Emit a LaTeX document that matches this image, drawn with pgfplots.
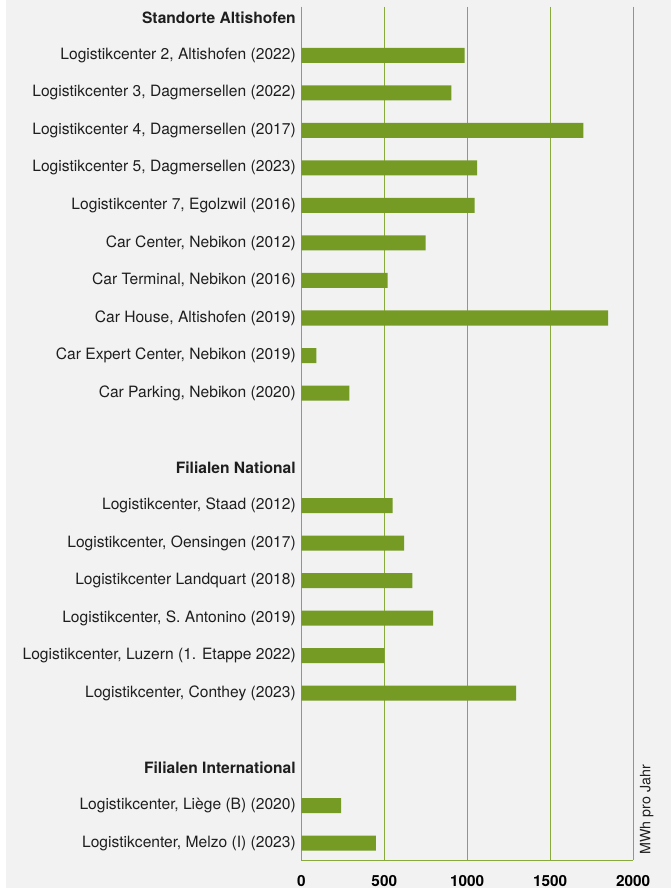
\documentclass[border=0pt]{standalone}
\usepackage{fontspec}
\setmainfont{TeX Gyre Heros}
\usepackage{pgfplots}
\pgfplotsset{compat=1.18}
\definecolor{bg}{RGB}{241,242,241}
\definecolor{barg}{RGB}{117,155,37}
\definecolor{gridg}{RGB}{136,170,60}
\definecolor{txt}{RGB}{30,30,30}

\begin{document}
\begin{tikzpicture}
  \useasboundingbox (0,0) rectangle (503.25pt,666pt);
  \fill[white] (0,0) rectangle (503.25pt,666pt);
  \fill[bg] (4.5pt,0) rectangle (503.25pt,666pt);
  \begin{axis}[
    at={(226pt,21pt)}, anchor=south west,
    scale only axis, width=248.8pt, height=639.75pt,
    xbar, bar width=0.4,
    xmin=0, xmax=2000,
    ymin=-0.293, ymax=22.453, y dir=reverse,
    axis lines*=left,
    axis line style={gridg, line width=0.75pt},
    xmajorgrids, grid style={gridg, line width=0.75pt},
    major tick length=0pt,
    xtick={0,500,1000,1500,2000},
    xticklabels={0,500,1000,1500,2000},
    scaled x ticks=false,
    xticklabel style={font=\fontsize{11.5}{13}\selectfont\bfseries, text=black,
      anchor=north, inner sep=0pt, yshift=-11.25pt},
    ytick={0,1,2,3,4,5,6,7,8,9,10,12,13,14,15,16,17,18,20,21,22},
    yticklabels={
      {\bfseries Standorte Altishofen},
      {Logistikcenter 2, Altishofen (2022)},
      {Logistikcenter 3, Dagmersellen (2022)\ },
      {Logistikcenter 4, Dagmersellen (2017)},
      {Logistikcenter 5, Dagmersellen (2023)},
      {Logistikcenter 7, Egolzwil (2016)},
      {Car Center, Nebikon (2012)},
      {Car Terminal, Nebikon (2016)},
      {Car House, Altishofen (2019)},
      {Car Expert Center, Nebikon (2019)},
      {Car Parking, Nebikon (2020)},
      {\bfseries Filialen National},
      {Logistikcenter, Staad (2012)},
      {Logistikcenter, Oensingen (2017)},
      {Logistikcenter Landquart (2018)},
      {Logistikcenter, S. Antonino (2019)},
      {Logistikcenter, Luzern (1. Etappe 2022)},
      {Logistikcenter, Conthey (2023)},
      {\bfseries Filialen International},
      {Logistikcenter, Liège (B) (2020)},
      {Logistikcenter, Melzo (I) (2023)}},
    yticklabel style={font=\fontsize{11.7}{14}\selectfont, text=txt,
      anchor=east, inner sep=0pt, xshift=-4pt},
  ]
    \addplot[fill=barg, draw=none] coordinates {
      (985,1) (905,2) (1700,3) (1060,4) (1045,5)
      (750,6) (520,7) (1850,8) (90,9) (290,10)
      (550,13) (620,14) (670,15) (795,16) (500,17) (1295,18)
      (240,21) (450,22)
    };
  \end{axis}
  \node[rotate=90, anchor=west, inner sep=0pt, text=txt,
    font=\fontsize{10.7}{12}\selectfont] at (485pt,24.75pt) {MWh pro Jahr};
\end{tikzpicture}
\end{document}
